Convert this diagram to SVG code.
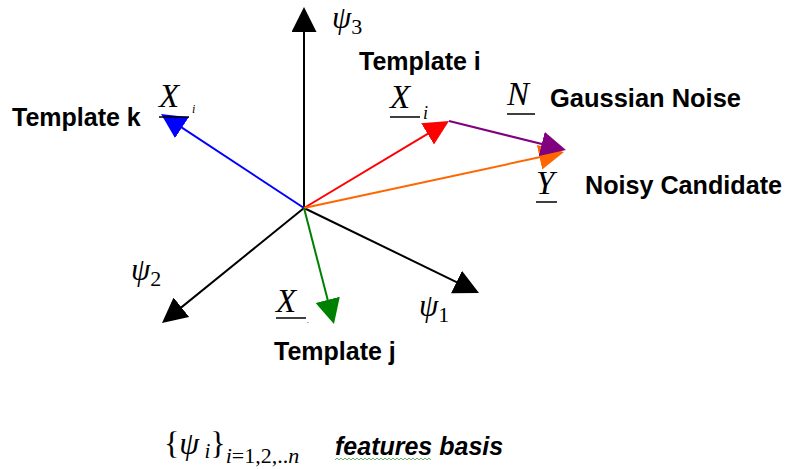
<svg xmlns="http://www.w3.org/2000/svg" width="788" height="469" viewBox="0 0 788 469">
<style>
.lbl{font-family:"Liberation Sans",Arial,sans-serif;font-weight:bold;font-size:25px;fill:#000}
.math{font-family:"Liberation Serif","Times New Roman",serif;font-style:italic;fill:#000}
.sub{font-family:"Liberation Serif","Times New Roman",serif;font-style:normal;fill:#000}
.ul{stroke:#000;stroke-width:1.5}
.vec{stroke-width:2;fill:none}
</style>
<defs>
<marker id="hk" markerUnits="userSpaceOnUse" markerWidth="26" markerHeight="26" refX="20" refY="12.5" orient="auto"><path d="M0,0 L25,12.5 L0,25 z" fill="#000"/></marker>
<marker id="hb" markerUnits="userSpaceOnUse" markerWidth="26" markerHeight="26" refX="20" refY="12.5" orient="auto"><path d="M0,0 L25,12.5 L0,25 z" fill="#0000FF"/></marker>
<marker id="hr" markerUnits="userSpaceOnUse" markerWidth="26" markerHeight="26" refX="20" refY="12.5" orient="auto"><path d="M0,0 L25,12.5 L0,25 z" fill="#FF0000"/></marker>
<marker id="hp" markerUnits="userSpaceOnUse" markerWidth="26" markerHeight="26" refX="20" refY="12.5" orient="auto"><path d="M0,0 L25,12.5 L0,25 z" fill="#800080"/></marker>
<marker id="ho" markerUnits="userSpaceOnUse" markerWidth="26" markerHeight="26" refX="20" refY="12.5" orient="auto"><path d="M0,0 L25,12.5 L0,25 z" fill="#FF6600"/></marker>
<marker id="hg" markerUnits="userSpaceOnUse" markerWidth="26" markerHeight="26" refX="20" refY="12.5" orient="auto"><path d="M0,0 L25,12.5 L0,25 z" fill="#008000"/></marker>
</defs>
<rect width="788" height="469" fill="#fff"/>
<g id="connectors">
<line class="vec" x1="304" y1="208" x2="304" y2="12" stroke="#000" marker-end="url(#hk)"/>
<line class="vec" x1="304" y1="208" x2="474.5" y2="290.8" stroke="#000" marker-end="url(#hk)"/>
<line class="vec" x1="304" y1="208" x2="165.9" y2="319.9" stroke="#000" marker-end="url(#hk)"/>
<line class="vec" x1="304" y1="208" x2="165.2" y2="116.7" stroke="#0000FF" marker-end="url(#hb)"/>
<line class="vec" x1="304" y1="208" x2="444.7" y2="123.6" stroke="#FF0000" marker-end="url(#hr)"/>
<line class="vec" x1="304" y1="208" x2="559.1" y2="153.1" stroke="#FF6600" marker-end="url(#ho)"/>
<line class="vec" x1="449" y1="121" x2="561.1" y2="148.8" stroke="#800080" marker-end="url(#hp)"/>
<line class="vec" x1="304" y1="208" x2="332.7" y2="319.2" stroke="#008000" marker-end="url(#hg)"/>
</g>
<g id="psi3"><text class="math" x="332" y="28" font-size="31">ψ<tspan class="sub" font-size="22" dy="6">3</tspan></text></g>
<g id="psi2"><text class="math" x="131" y="280" font-size="31">ψ<tspan class="sub" font-size="22" dy="6">2</tspan></text></g>
<g id="psi1"><text class="math" x="419" y="316" font-size="31">ψ<tspan class="sub" font-size="22" dy="6">1</tspan></text></g>
<g id="template-i">
<text class="lbl" x="359" y="70">Template i</text>
<text class="math" x="390" y="108" font-size="33">X</text>
<line class="ul" x1="390" y1="117" x2="420" y2="117"/>
<text class="math" x="423" y="119" font-size="18">i</text>
</g>
<g id="template-k">
<text class="lbl" x="12" y="126">Template k</text>
<text class="math" x="159" y="107" font-size="33">X</text>
<line class="ul" x1="159" y1="117" x2="189" y2="117"/>
<text class="math" x="192" y="113" font-size="12">i</text>
</g>
<g id="template-j">
<text class="lbl" x="274" y="360">Template j</text>
<text class="math" x="276" y="312" font-size="33">X</text>
<line class="ul" x1="276" y1="318" x2="306" y2="318"/>
<text class="math" x="307" y="323" font-size="8">.</text>
</g>
<g id="noise">
<text class="math" x="507" y="105" font-size="33">N</text>
<line class="ul" x1="507" y1="114" x2="535" y2="114"/>
<text class="lbl" x="550" y="107" textLength="191" lengthAdjust="spacingAndGlyphs">Gaussian Noise</text>
</g>
<g id="candidate">
<text class="math" x="536" y="194" font-size="33">Y</text>
<line class="ul" x1="536" y1="202" x2="557" y2="202"/>
<text class="lbl" x="585" y="194" textLength="197" lengthAdjust="spacingAndGlyphs">Noisy Candidate</text>
</g>
<g id="basis">
<text class="sub" x="164" y="454" font-size="32">{<tspan class="math">ψ</tspan><tspan class="math" font-size="21" dy="4"> i</tspan><tspan font-size="32" dy="-4">}</tspan><tspan class="math" font-size="22" dy="9">i</tspan><tspan font-size="22">=1,2,..</tspan><tspan class="math" font-size="22">n</tspan></text>
<text class="lbl" x="335" y="455" font-style="italic">features basis</text>
<path d="M335,460 l2,-2 l2,2 l2,-2 l2,2 l2,-2 l2,2 l2,-2 l2,2 l2,-2 l2,2 l2,-2 l2,2 l2,-2 l2,2 l2,-2 l2,2 l2,-2 l2,2 l2,-2 l2,2 l2,-2 l2,2 l2,-2 l2,2 l2,-2 l2,2 l2,-2 l2,2 l2,-2 l2,2 l2,-2 l2,2 l2,-2 l2,2 l2,-2 l2,2 l2,-2 l2,2 l2,-2 l2,2 l2,-2 l2,2 l2,-2 l2,2 l2,-2 l2,2 l2,-2 l2,2" fill="none" stroke="#6db36d" stroke-width="1"/>
</g>
</svg>
